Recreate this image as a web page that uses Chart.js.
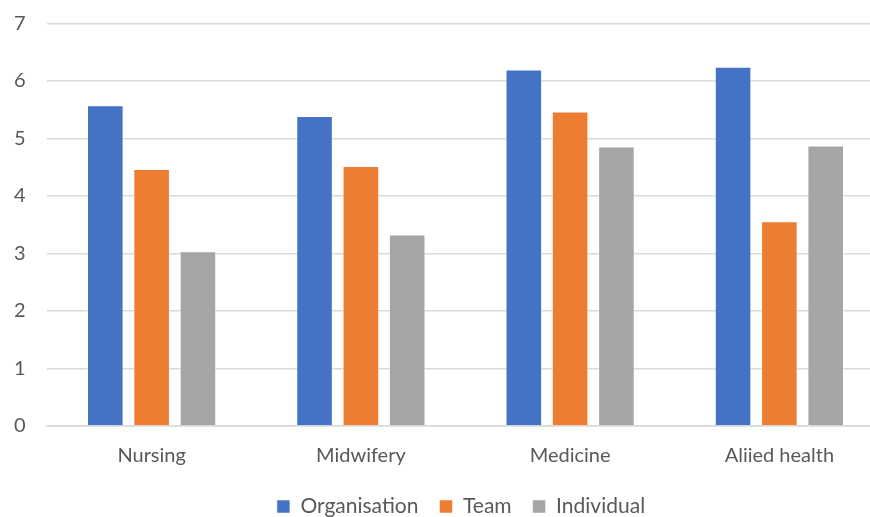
<!DOCTYPE html>
<html>
<head>
<meta charset="utf-8">
<script src="https://cdn.jsdelivr.net/npm/chart.js@4/dist/chart.umd.min.js"></script>
<style>
  html, body { margin: 0; padding: 0; background: #fff; overflow: hidden; }
  #wrap { width: 870px; height: 517px; overflow: hidden; }
</style>
</head>
<body>
<div id="wrap"><canvas id="c" width="918" height="517"></canvas></div>
<script>
const categories = ['Nursing', 'Midwifery', 'Medicine', 'Aliied health'];
const organisation = [5.58, 5.39, 6.20, 6.25];
const team = [4.47, 4.52, 5.47, 3.56];
const individual = [3.04, 3.33, 4.86, 4.88];
const yTicks = [0, 1, 2, 3, 4, 5, 6, 7];

const FONT = 'Lato, "Open Sans", sans-serif';
const TEXT = '#595959';
const GRID = '#d9d9d9';

function series(label, data, color) {
  return {
    label, data,
    backgroundColor: color,
    borderColor: 'rgba(255,255,255,0.5)',
    borderWidth: 1,
    categoryPercentage: 0.664,
    barPercentage: 0.79
  };
}

// nudge the legend so it sits centred under the plot area rather than the canvas
const legendShift = {
  id: 'legendShift',
  afterLayout(chart) {
    const lg = chart.legend;
    if (lg) { lg.left += 12; lg.right += 12; }
  }
};

new Chart(document.getElementById('c'), {
  type: 'bar',
  data: {
    labels: categories,
    datasets: [
      series('Organisation', organisation, '#4472C4'),
      series('Team', team, '#ED7D31'),
      series('Individual', individual, '#A5A5A5')
    ]
  },
  plugins: [legendShift],
  options: {
    responsive: false,
    animation: false,
    layout: { padding: { left: 14, right: 34, top: 23.5, bottom: -10 } },
    plugins: {
      tooltip: { enabled: false },
      legend: {
        position: 'bottom',
        labels: {
          color: TEXT,
          font: { family: FONT, size: 21 },
          boxWidth: 13,
          boxHeight: 13,
          padding: 21
        }
      }
    },
    scales: {
      x: {
        grid: { display: false },
        border: { display: true, color: GRID, width: 1.5 },
        ticks: { color: TEXT, font: { family: FONT, size: 20 }, padding: 10 },
        afterFit: (axis) => { axis.height = 49; }
      },
      y: {
        min: 0,
        max: 7,
        afterBuildTicks: (axis) => { axis.ticks = yTicks.map(v => ({ value: v })); },
        afterFit: (axis) => { axis.width = 33; },
        grid: { color: GRID, lineWidth: 1.5, drawTicks: false },
        border: { display: false },
        ticks: { color: TEXT, font: { family: FONT, size: 20 }, padding: 0, crossAlign: 'far' }
      }
    }
  }
});
</script>
</body>
</html>
